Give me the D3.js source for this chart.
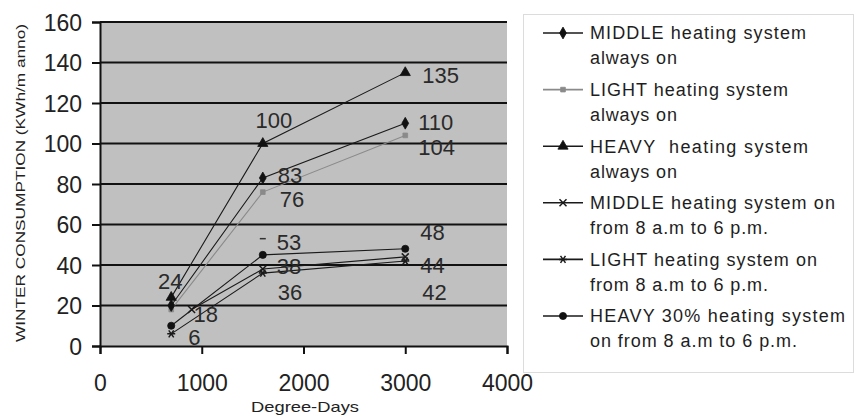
<!DOCTYPE html>
<html>
<head>
<meta charset="utf-8">
<script src="https://cdn.jsdelivr.net/npm/d3@7"></script>
<style>
  html, body { margin: 0; padding: 0; background: #fff; }
  svg { display: block; font-family: "Liberation Sans", Arial, sans-serif; }
</style>
</head>
<body>
<svg id="chart" width="857" height="415"></svg>
<script>
// Winter consumption (kWh/m² per year) against degree-days for six heating regimes.
const seriesNames = [
  ["MIDDLE heating system", "always on"],
  ["LIGHT heating system", "always on"],
  ["HEAVY  heating system", "always on"],
  ["MIDDLE heating system on", "from 8 a.m to 6 p.m."],
  ["LIGHT heating system on", "from 8 a.m to 6 p.m."],
  ["HEAVY 30% heating system", "on from 8 a.m to 6 p.m."]
];

// [degree-days, consumption]
const middleAlwaysOn = [[700, 20], [1600, 83], [3000, 110]];
const lightAlwaysOn  = [[700, 18], [1600, 76], [3000, 104]];
const heavyAlwaysOn  = [[700, 24], [1600, 100], [3000, 135]];
const middleDaytime  = [[900, 18], [1600, 38], [3000, 44]];
const lightDaytime   = [[700, 6], [1600, 36], [3000, 42]];
const heavy30Daytime = [[700, 10], [1600, 45], [3000, 48]];
// single marked reading shown near the daytime group
const extraReadings  = [[1600, 53]];

// which points carry a value label
const labelShown = [
  [false, true, true],
  [false, true, true],
  [true, true, true],
  [true, true, true],
  [true, true, true],
  [false, false, true]
];

const xTicks = [0, 1000, 2000, 3000, 4000];
const yTicks = [0, 20, 40, 60, 80, 100, 120, 140, 160];
const xTitle = "Degree-Days";
const yTitle = "WINTER CONSUMPTION (KWh/m anno)";

const allSeries = [middleAlwaysOn, lightAlwaysOn, heavyAlwaysOn, middleDaytime, lightDaytime, heavy30Daytime];

// ---- styling ----
const styles = [
  { stroke: "#1a1a1a", marker: "diamond", fill: "#111" },
  { stroke: "#8a8a8a", marker: "square", fill: "#8a8a8a" },
  { stroke: "#1a1a1a", marker: "triangle", fill: "#111" },
  { stroke: "#1a1a1a", marker: "x", fill: "none" },
  { stroke: "#1a1a1a", marker: "star", fill: "none" },
  { stroke: "#1a1a1a", marker: "circle", fill: "#111" }
];
// label offsets [dx, dy, anchor] per point
const labelOffsets = [
  [null, [15, -3, "start"], [13, -1, "start"]],
  [null, [17, 7, "start"], [13, 12, "start"]],
  [[-1, -16, "middle"], [11, -23, "middle"], [17, 2, "start"]],
  [[2, 5, "start"], [14, -3, "start"], [15, 8, "start"]],
  [[17, 3, "start"], [15, 19, "start"], [17, 31, "start"]],
  [null, null, [15, -17, "start"]]
];

const svg = d3.select("#chart");
const x = d3.scaleLinear().domain([0, 4000]).range([100, 507]);
const y = d3.scaleLinear().domain([0, 160]).range([346, 22]);

// plot area
svg.append("rect")
  .attr("x", x(0)).attr("y", y(160))
  .attr("width", x(4000) - x(0)).attr("height", y(0) - y(160))
  .attr("fill", "#c0c0c0");

// horizontal gridlines
svg.append("g").selectAll("line").data(yTicks.filter(d => d > 0)).join("line")
  .attr("x1", x(0)).attr("x2", x(4000))
  .attr("y1", d => y(d)).attr("y2", d => y(d))
  .attr("stroke", "#111").attr("stroke-width", 2);

// axes
const xAxis = svg.append("g").attr("transform", `translate(0,${y(0)})`)
  .call(d3.axisBottom(x).tickValues(xTicks).tickSize(8).tickPadding(21).tickFormat(d3.format("d")));
const yAxis = svg.append("g").attr("transform", `translate(${x(0)},0)`)
  .call(d3.axisLeft(y).tickValues(yTicks).tickSize(8).tickPadding(10).tickFormat(d3.format("d")));
[xAxis, yAxis].forEach(a => {
  a.select(".domain").attr("stroke", "#111").attr("stroke-width", 2);
  a.selectAll(".tick line").attr("stroke", "#111").attr("stroke-width", 2);
  a.selectAll(".tick text").attr("fill", "#222").style("font-size", "23px")
    .style("font-family", "'Liberation Sans', Arial, sans-serif");
});
yAxis.selectAll(".tick text").attr("dy", "0.36em");
xAxis.selectAll(".tick text").attr("dy", "0.71em");

// axis titles
svg.append("text")
  .attr("x", 305).attr("y", 412)
  .attr("text-anchor", "middle")
  .attr("textLength", 108).attr("lengthAdjust", "spacingAndGlyphs")
  .style("font-size", "15px").attr("fill", "#222")
  .text(xTitle);
svg.append("text")
  .attr("transform", "translate(25,183) rotate(-90)")
  .attr("text-anchor", "middle")
  .attr("textLength", 318).attr("lengthAdjust", "spacingAndGlyphs")
  .style("font-size", "13px").attr("fill", "#222")
  .text(yTitle);

// marker shapes
function markerPath(type) {
  switch (type) {
    case "diamond": return d3.symbol(d3.symbolDiamond, 40)();
    case "square": return d3.symbol(d3.symbolSquare, 22)();
    case "triangle": return d3.symbol(d3.symbolTriangle, 45)();
    case "circle": return d3.symbol(d3.symbolCircle, 40)();
    case "x": return "M-3.5,-3.5L3.5,3.5M-3.5,3.5L3.5,-3.5";
    case "star": return "M-4,0L4,0M-2.5,-3.5L2.5,3.5M-2.5,3.5L2.5,-3.5";
    case "dash": return "M-3,0L3,0";
  }
}
function drawMarker(g, type, st, cx, cy) {
  const p = g.append("path").attr("d", markerPath(type))
    .attr("transform", `translate(${cx},${cy})`);
  if (type === "x" || type === "star" || type === "dash") {
    p.attr("fill", "none").attr("stroke", st.stroke).attr("stroke-width", 1.5);
  } else {
    p.attr("fill", st.fill).attr("stroke", st.fill).attr("stroke-width", 0.8);
  }
}

const line = d3.line().x(d => x(d[0])).y(d => y(d[1]));
const seriesG = svg.append("g");
// draw the light-grey series first so dark lines sit on top
const drawOrder = [1, 0, 2, 4, 3, 5];
drawOrder.forEach(i => {
  const st = styles[i];
  const g = seriesG.append("g");
  g.append("path").datum(allSeries[i]).attr("d", line)
    .attr("fill", "none").attr("stroke", st.stroke).attr("stroke-width", 1.1);
  allSeries[i].forEach(d => drawMarker(g, st.marker, st, x(d[0]), y(d[1])));
});
extraReadings.forEach(d => drawMarker(seriesG, "dash", { stroke: "#333" }, x(d[0]), y(d[1])));

// value labels
const labelG = svg.append("g").style("font-size", "22px").attr("fill", "#2a2a2a");
allSeries.forEach((s, i) => {
  s.forEach((d, j) => {
    if (!labelShown[i][j]) return;
    const [dx, dy, anchor] = labelOffsets[i][j];
    labelG.append("text")
      .attr("x", x(d[0]) + dx).attr("y", y(d[1]) + dy)
      .attr("dy", "0.36em").attr("text-anchor", anchor)
      .text(d[1]);
  });
});
extraReadings.forEach(d => {
  labelG.append("text")
    .attr("x", x(d[0]) + 14).attr("y", y(d[1]) + 3)
    .attr("dy", "0.36em").text(d[1]);
});

// legend
const legendLineWidths = [
  [216, 87], [198, 87], [218, 87], [245, 178], [227, 178], [255, 207]
];
const legend = svg.append("g");
legend.append("rect")
  .attr("x", 523.5).attr("y", 14.5).attr("width", 330).attr("height", 358)
  .attr("fill", "none").attr("stroke", "#dcdcdc");
seriesNames.forEach((name, i) => {
  const ly = 33 + i * 56.6;
  const st = styles[i];
  const g = legend.append("g");
  g.append("line").attr("x1", 543).attr("x2", 583).attr("y1", ly).attr("y2", ly)
    .attr("stroke", st.stroke).attr("stroke-width", 1.6);
  drawMarker(g, st.marker, st, 563, ly);
  name.forEach((t, k) => {
    g.append("text")
      .attr("x", 590).attr("y", ly + k * 25)
      .attr("dy", "0.36em")
      .attr("textLength", legendLineWidths[i][k]).attr("lengthAdjust", "spacing")
      .style("font-size", "18px").attr("fill", "#1e1e1e")
      .style("white-space", "pre")
      .text(t);
  });
});
</script>
</body>
</html>
